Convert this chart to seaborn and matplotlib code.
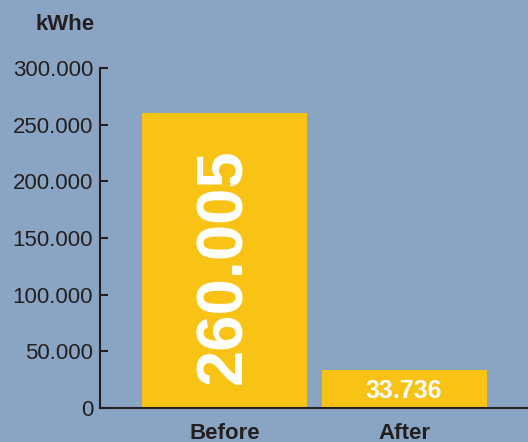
import pandas as pd
import seaborn as sns
import matplotlib.pyplot as plt
from matplotlib.ticker import FuncFormatter

# datos del grafico
periodos = ["Before", "After"]
consumo_kwhe = [260005, 33736]
etiquetas = ["260.005", "33.736"]

fondo = "#8aa5c4"
amarillo = "#f9c315"
oscuro = "#231f20"

sns.set_style("white")
plt.rcParams['font.family'] = ['Liberation Sans', 'DejaVu Sans']

df = pd.DataFrame({"periodo": periodos, "kwhe": consumo_kwhe})

fig = plt.figure(figsize=(5.28, 4.42), dpi=100, facecolor=fondo)
ax = fig.add_axes([100/528, 34/442, 428/528, 340/442])
ax.set_facecolor(fondo)

sns.barplot(data=df, x="periodo", y="kwhe", color=amarillo, saturation=1,
            width=0.917, linewidth=0, ax=ax)

ax.set_ylim(0, 300000)
ax.set_xlim(-0.692, 1.689)
ax.set_yticks(range(0, 300001, 50000))
ax.yaxis.set_major_formatter(FuncFormatter(lambda v, p: f"{int(v):,}".replace(",", ".")))

ax.set_xlabel("")
ax.set_ylabel("")

# ejes
for lado in ["top", "right"]:
    ax.spines[lado].set_visible(False)
for lado in ["left", "bottom"]:
    ax.spines[lado].set_color(oscuro)
    ax.spines[lado].set_linewidth(1.5)

ax.tick_params(axis="y", left=True, direction="in", length=6, width=1.5, color=oscuro,
               labelsize=16, labelcolor=oscuro, pad=5)
ax.tick_params(axis="x", bottom=False, length=0, labelsize=16, labelcolor=oscuro, pad=11)
for t in ax.get_xticklabels():
    t.set_fontweight("bold")

# valores sobre las barras
ax.text(0, 125000, etiquetas[0], rotation=90, ha="center", va="center",
        color="white", fontsize=47, fontweight="bold")
ax.text(1, 15300, etiquetas[1], ha="center", va="center",
        color="white", fontsize=18, fontweight="bold")

# unidad
fig.text(65/528, 1 - 25/442, "kWhe", ha="center", va="center",
         fontsize=16, fontweight="bold", color=oscuro)

fig.savefig("out.png", dpi=100, facecolor=fondo)
